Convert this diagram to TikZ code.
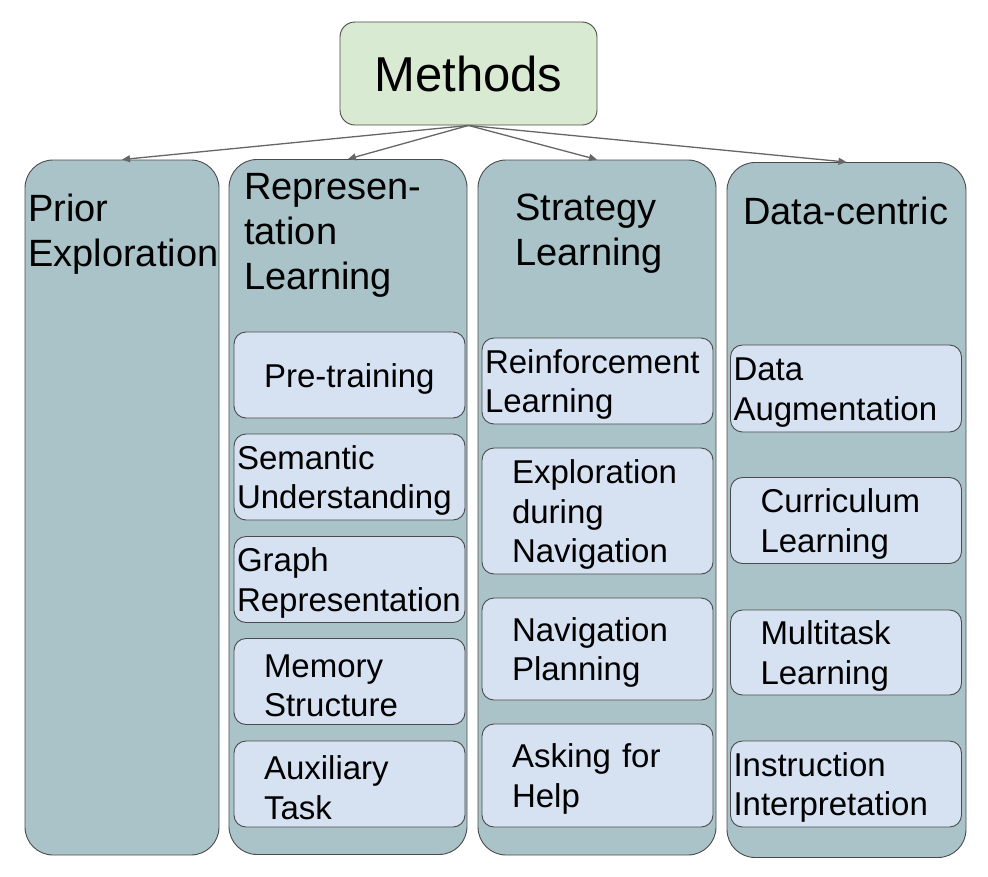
\documentclass[tikz,border=0pt]{standalone}
\usepackage{fontspec}
\setmainfont{Liberation Sans}
\usetikzlibrary{shapes,arrows.meta,positioning}
\definecolor{rootfill}{HTML}{D9EAD3}
\definecolor{colfill}{HTML}{AAC3C8}
\definecolor{subfill}{HTML}{D6E2F1}
\definecolor{edgegray}{HTML}{4A4A4A}
\definecolor{arrowgray}{HTML}{666666}
\newcommand{\rootfont}{\fontsize{49}{56}\selectfont}
\newcommand{\colfont}{\fontsize{38}{45}\selectfont}
\newcommand{\subfont}{\fontsize{33}{39.5}\selectfont}

\begin{document}
\begin{tikzpicture}[x=1pt, y=-1pt,
  root/.style={rectangle, draw=edgegray, line width=0.9pt, fill=rootfill, rounded corners=15pt, minimum width=257pt, minimum height=103pt, font=\rootfont},
  column/.style={rectangle, draw=edgegray, line width=0.9pt, fill=colfill, rounded corners=28pt, minimum width=238pt, minimum height=695pt},
  coltitle/.style={anchor=north west, inner sep=0pt, align=left, font=\colfont},
  sub/.style={rectangle, draw=edgegray, line width=0.9pt, fill=subfill, rounded corners=12pt, minimum width=231pt, minimum height=86pt, inner ysep=0pt, align=left, font=\subfont, execute at begin node={\rule{0pt}{31pt}}},
  wide/.style={inner xsep=3pt, text width=225pt},
  narrow/.style={inner xsep=30pt, text width=171pt},
  link/.style={draw=arrowgray, line width=1.3pt, -{Triangle[length=8pt, width=7pt]}}
]
  \useasboundingbox (0,0) rectangle (988,876);
  % root
  \node[root] (methods) at (468.5,73.5) {Methods};
  % columns
  \node[column, minimum width=194pt] (prior) at (122,507.5) {};
  \node[column] (repr) at (348,507) {};
  \node[column] (strat) at (597,507.5) {};
  \node[column, minimum width=239pt] (data) at (846.5,510) {};
  \node[coltitle] at (28,194) {Prior\\Exploration};
  \node[coltitle] at (244,173) {Represen-\\tation\\Learning};
  \node[coltitle] at (515,194) {Strategy\\Learning};
  \node[coltitle] at (743,197) {Data-centric};
  % representation learning
  \node[sub, narrow] (pretrain) at (349.5,375) {Pre-training};
  \node[sub, wide] (semantic) at (349.5,477) {Semantic\\Understanding};
  \node[sub, wide] (graph) at (349.5,579.5) {Graph\\Representation};
  \node[sub, narrow] (memory) at (349.5,681.5) {Memory\\Structure};
  \node[sub, narrow] (aux) at (349.5,784) {Auxiliary\\Task};
  % strategy learning
  \node[sub, wide] (rl) at (597.5,381) {Reinforcement\\Learning};
  \node[sub, narrow, minimum height=126pt] (explore) at (597.5,511) {Exploration\\during\\Navigation};
  \node[sub, narrow, minimum height=102pt] (plan) at (597.5,649) {Navigation\\Planning};
  \node[sub, narrow, minimum height=103pt] (help) at (597.5,775.5) {Asking for\\Help};
  % data-centric
  \node[sub, wide, minimum height=87pt] (augment) at (846,388.5) {Data\\Augmentation};
  \node[sub, narrow] (curric) at (846,520.5) {Curriculum\\Learning};
  \node[sub, narrow, minimum height=85pt] (multi) at (846,652.5) {Multitask\\Learning};
  \node[sub, wide] (instr) at (846,784) {Instruction\\Interpretation};
  % links
  \foreach \col in {prior, repr, strat, data}
    \draw[link] (methods.south) -- (\col.north);
\end{tikzpicture}
\end{document}
